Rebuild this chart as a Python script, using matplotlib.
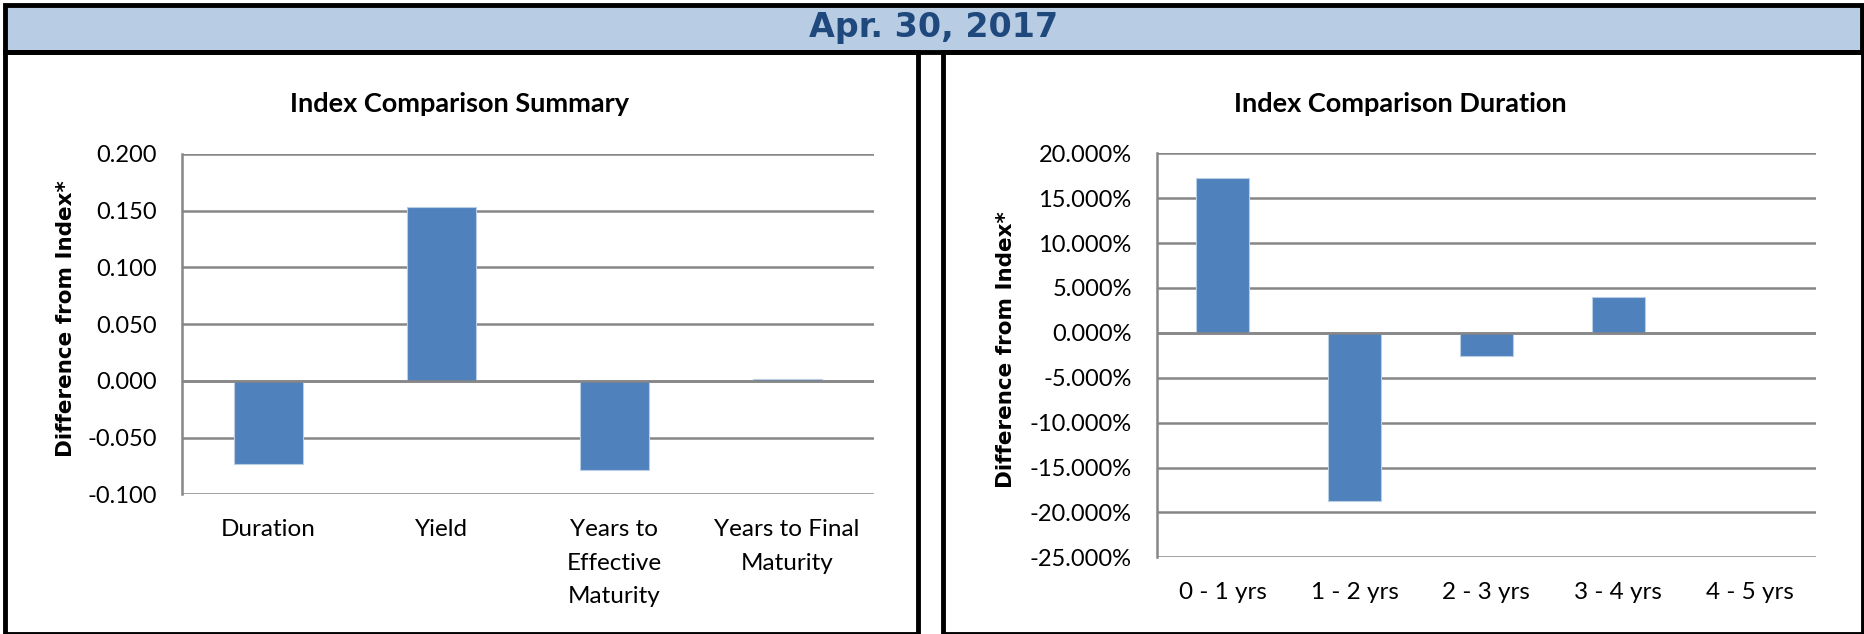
import numpy as np
import matplotlib.pyplot as plt
from matplotlib.patches import Rectangle
from matplotlib.ticker import FuncFormatter

# --- data ---
header_text = "Apr. 30, 2017"

summary_title = "Index Comparison Summary"
summary_cats = ["Duration", "Yield", "Years to\nEffective\nMaturity", "Years to Final\nMaturity"]
summary_vals = [-0.073, 0.153, -0.079, 0.002]
summary_ticks = [-0.100, -0.050, 0.000, 0.050, 0.100, 0.150, 0.200]

duration_title = "Index Comparison Duration"
duration_cats = ["0 - 1 yrs", "1 - 2 yrs", "2 - 3 yrs", "3 - 4 yrs", "4 - 5 yrs"]
duration_vals = [17.2, -18.7, -2.6, 4.0, 0.0]   # percent
duration_ticks = [-25, -20, -15, -10, -5, 0, 5, 10, 15, 20]

ylabel = "Difference from Index*"

BAR = "#4F81BD"
GRID = "#868686"
HEAD_BG = "#B8CCE4"
HEAD_FG = "#1F497D"
TXT_FONT = ["Lato", "DejaVu Sans"]
BOLD_FONT = ["DejaVu Sans"]

W, H = 1865, 634
fig = plt.figure(figsize=(W / 100, H / 100), dpi=100)


def px(x0, y0, x1, y1):
    # pixel box (top-left origin) -> figure fraction rect
    return [x0 / W, 1 - y1 / H, (x1 - x0) / W, (y1 - y0) / H]


def frame(x0, y0, x1, y1, lw=3.5, fc="none"):
    r = Rectangle((x0 / W, 1 - y1 / H), (x1 - x0) / W, (y1 - y0) / H,
                  transform=fig.transFigure, fill=(fc != "none"),
                  facecolor=fc, edgecolor="black", linewidth=lw, zorder=0)
    fig.add_artist(r)


# header band and the two panel boxes
frame(5.5, 4.5, 1862.5, 51.5, fc=HEAD_BG)
frame(5.5, 51.5, 918.5, 633.5)
frame(943, 51.5, 1862.5, 633.5)
fig.text(934 / W, 1 - 27 / H, header_text, ha="center", va="center",
         fontsize=24, fontweight="bold", color=HEAD_FG, family=BOLD_FONT)


def bar_panel(rect, cats, vals, ticks, title, title_x, fmt, ylab_x):
    ax = fig.add_axes(px(*rect))
    x = np.arange(len(cats))
    ax.bar(x, vals, width=0.4, color=BAR, edgecolor="#B9CDE5", linewidth=0.8, zorder=2)
    ax.set_xlim(-0.5, len(cats) - 0.5)
    ax.set_ylim(ticks[0], ticks[-1])
    ax.set_yticks(ticks)
    ax.yaxis.set_major_formatter(FuncFormatter(fmt))
    # category labels drawn as annotations so the line spacing can be set
    ax.set_xticks(x)
    ax.set_xticklabels([""] * len(cats))
    for xi, c in zip(x, cats):
        ax.annotate(c, xy=(xi, 0), xycoords=("data", "axes fraction"),
                    xytext=(0, -25), textcoords="offset pixels",
                    ha="center", va="top", fontsize=17.5, family=TXT_FONT,
                    linespacing=1.72, annotation_clip=False)
    ax.grid(axis="y", color=GRID, linewidth=1.8, zorder=1)
    ax.axhline(0, color=GRID, linewidth=1.8, zorder=3)
    for s in ["top", "right"]:
        ax.spines[s].set_visible(False)
    ax.spines["left"].set_color(GRID)
    ax.spines["left"].set_linewidth(1.8)
    ax.spines["bottom"].set_visible(False)
    ax.tick_params(axis="x", length=0)
    ax.tick_params(axis="y", length=0, labelsize=17, pad=18)
    for lab in ax.get_yticklabels():
        lab.set_family(TXT_FONT)
    ax.set_ylabel(ylabel, fontsize=15.5, fontweight="bold", family=BOLD_FONT, va="center")
    ax.yaxis.set_label_coords(ylab_x, 0.515)
    fig.text(title_x / W, 1 - 104 / H, title, ha="center", va="center",
             fontsize=19.5, fontweight="bold", family=TXT_FONT)
    return ax


bar_panel((181.7, 154, 873.6, 494.3), summary_cats, summary_vals, summary_ticks,
          summary_title, 460, lambda v, p: f"{v:.3f}", (66 - 181.7) / 691.9)
bar_panel((1156.7, 153.3, 1816, 557.3), duration_cats, duration_vals, duration_ticks,
          duration_title, 1400, lambda v, p: f"{v:.3f}%", (1006 - 1156.7) / 659.3)

fig.savefig("out.png", dpi=100)
